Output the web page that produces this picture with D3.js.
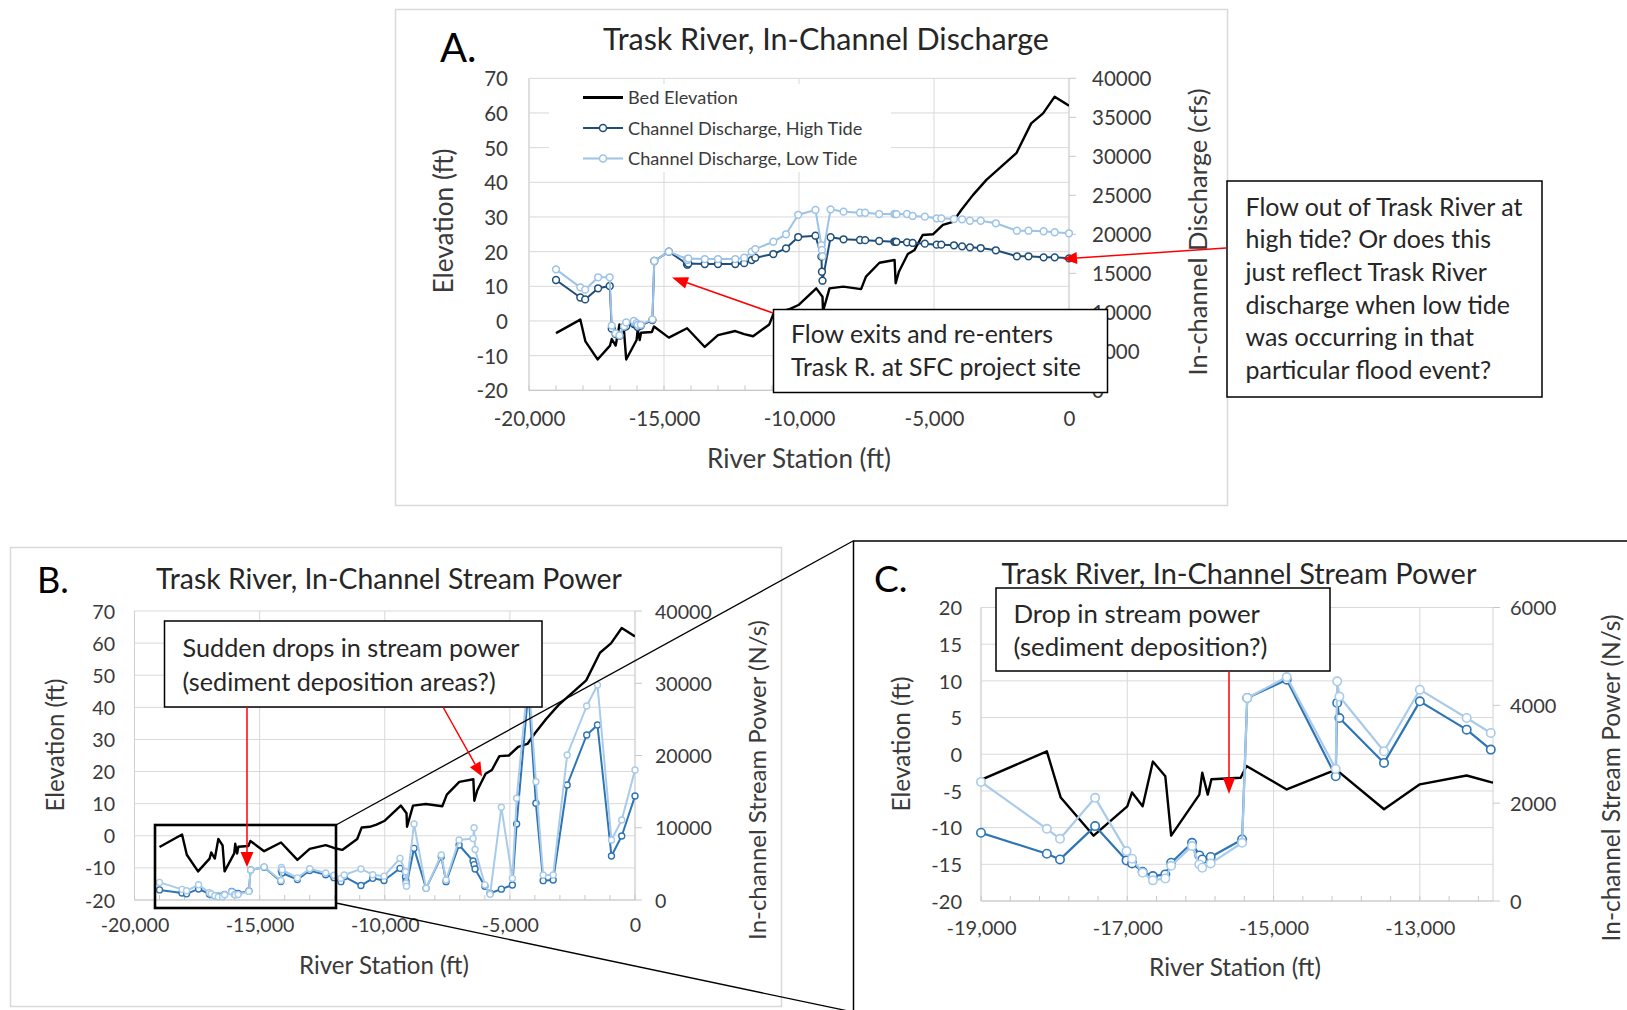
<!DOCTYPE html>
<html><head><meta charset="utf-8">
<script src="https://cdn.jsdelivr.net/npm/d3@7"></script>
<style>body{margin:0;background:#fff}svg{display:block}</style>
</head><body>
<svg id="chart" width="1627" height="1010"></svg>
<script>
// ---------------- DATA ----------------
const bedStation = [-19000,-18100,-17910,-17460,-17000,-16935,-16790,-16650,-16480,-16400,-16015,-15975,-15900,-15850,-15450,-15370,-14820,-14145,-13490,-13000,-12360,-12030,-11700,-11100,-10920,-10600,-10330,-10020,-9360,-9130,-9110,-8870,-8360,-7700,-7520,-7020,-6460,-6420,-6300,-5970,-5720,-5420,-5040,-4670,-4300,-3990,-3560,-3060,-2510,-1950,-1400,-960,-530,0];
const bedElev = [-3.5,0.4,-5.9,-11.1,-7.1,-5.2,-7.1,-1.0,-3.0,-11.1,-5.5,-2.5,-5.5,-3.4,-3.2,-1.6,-4.8,-2.1,-7.5,-4.1,-2.9,-3.8,-4.4,-1.0,2.6,2.8,3.5,4.6,9.4,7.0,2.8,9.4,9.9,9.2,12.8,16.8,17.6,10.9,14.2,19.3,20.5,24.8,25.0,27.7,28.6,32.0,36.3,40.7,44.5,48.4,57.0,59.9,64.7,62.1];

const flowStation = [-19000,-18100,-17920,-17440,-17010,-16935,-16790,-16650,-16480,-16400,-16115,-16015,-15975,-15860,-15430,-15360,-14820,-14150,-14130,-14100,-13490,-13000,-12360,-12030,-11750,-11620,-10950,-10480,-10030,-9390,-9170,-9150,-9130,-8830,-8350,-7740,-7550,-7030,-6470,-6430,-6390,-6000,-5790,-5340,-4900,-4730,-4260,-3960,-3670,-3270,-2710,-1930,-1500,-940,-530,0];
const dischargeHigh = [14140,11900,11650,13080,13370,7900,7200,7000,8100,8200,8500,8300,8100,8300,9000,16580,17770,16190,16100,16250,16190,16190,16190,16300,16700,17000,17470,18200,19650,19820,17130,15200,14050,19620,19360,19270,19250,19140,19050,19040,19030,18970,18890,18800,18670,18670,18590,18460,18330,18240,17950,17180,17180,17050,17050,16920];
const dischargeLow = [15510,13200,12900,14490,14490,8300,7300,7050,8200,8700,8900,8600,8400,8400,9100,16580,17770,16830,16700,16900,16830,16830,16830,17000,17770,18100,19050,20000,22500,23120,18600,17990,17200,23200,22900,22770,22760,22600,22600,22590,22580,22600,22350,22260,22050,22050,21960,21920,21740,21740,21410,20460,20460,20390,20260,20130];
const powerHigh = [1395,966,850,1531,830,769,599,510,544,782,1190,932,850,900,1258,4150,4524,2550,4050,3740,2823,4082,3503,3095,2537,3229,2000,3000,2700,4384,3200,2600,2076,7151,1615,5998,2537,7613,5400,4900,4300,1900,927,1500,2076,10519,29000,13383,2676,2768,15917,22837,24221,6090,8858,14394];
const powerLow = [2435,1476,1272,2109,1020,864,578,422,460,720,1122,748,680,769,1190,4150,4578,2700,4490,4180,3061,4320,3741,3435,3000,3460,4300,3500,3300,5767,3900,2300,1900,10519,1615,6228,2768,8304,8500,10000,7000,2100,800,12830,3000,14076,31000,16374,3460,3460,20069,26851,29758,8304,11073,17993];

const stationTicksAB = [-20000,-15000,-10000,-5000,0];
const stationTicksC = [-19000,-17000,-15000,-13000];
const elevTicksAB = [-20,-10,0,10,20,30,40,50,60,70];
const elevTicksC = [-20,-15,-10,-5,0,5,10,15,20];
const dischargeTicks = [0,5000,10000,15000,20000,25000,30000,35000,40000];
const powerTicksB = [0,10000,20000,30000,40000];
const powerTicksC = [0,2000,4000,6000];

const legendLabels = ["Bed Elevation","Channel Discharge, High Tide","Channel Discharge, Low Tide"];

// ---------------- DRAWING ----------------
const svg = d3.select('#chart');
const FONT = "Lato, 'Open Sans', sans-serif";
const TXT = '#3a3a3a';
const fmtX = d3.formatLocale({decimal:'.',thousands:',',grouping:[3],currency:['',''],minus:'-'}).format(',');
const fmtY = d3.formatLocale({decimal:'.',thousands:'',grouping:[3],currency:['',''],minus:'-'}).format('d');

function fit(sel, w){
  const fs = parseFloat(sel.attr('font-size'));
  const L = sel.node().getComputedTextLength();
  const nf = fs*w/L; sel.attr('font-size', nf); return nf;
}
function txt(g, s, x, y, fs, opts={}){
  const t = g.append('text').attr('x',x).attr('y',y).attr('font-size',fs)
    .attr('font-family',FONT).attr('fill',opts.fill||TXT).text(s);
  if(opts.anchor) t.attr('text-anchor',opts.anchor);
  if(opts.dy) t.attr('dy',opts.dy);
  if(opts.rotate){ t.attr('x',0).attr('y',0).attr('transform',`translate(${x},${y}) rotate(${opts.rotate})`); }
  if(opts.fit) fit(t, opts.fit);
  return t;
}

function panel(c){
  const g = svg.append('g');
  const x = d3.scaleLinear().domain(c.xDom).range([c.x0,c.x1]);
  const yL = d3.scaleLinear().domain(c.yLDom).range([c.yB,c.yT]);
  const yR = d3.scaleLinear().domain(c.yRDom).range([c.yB,c.yT]);
  g.append('g').selectAll('line').data(c.yLTicks).join('line')
    .attr('x1',c.x0).attr('x2',c.x1).attr('y1',d=>yL(d)).attr('y2',d=>yL(d))
    .attr('stroke','#d9d9d9').attr('stroke-width',1);
  g.append('g').selectAll('line').data(c.xTicks).join('line')
    .attr('x1',d=>x(d)).attr('x2',d=>x(d)).attr('y1',c.yT).attr('y2',c.yB)
    .attr('stroke','#d9d9d9').attr('stroke-width',1);
  g.append('line').attr('x1',c.x1).attr('x2',c.x1).attr('y1',c.yT).attr('y2',c.yB).attr('stroke','#d0d0d0');
  g.append('g').selectAll('line').data(c.yRTicks).join('line')
    .attr('x1',c.x1).attr('x2',c.x1+7).attr('y1',d=>yR(d)).attr('y2',d=>yR(d)).attr('stroke','#c8c8c8');
  g.append('line').attr('x1',c.x0).attr('x2',c.x0).attr('y1',c.yT).attr('y2',c.yB).attr('stroke','#d0d0d0');
  g.append('line').attr('x1',c.x0).attr('x2',c.x1).attr('y1',c.yB).attr('y2',c.yB).attr('stroke','#c8c8c8').attr('stroke-width',1.2);
  g.append('g').selectAll('line').data(d3.range(c.xDom[0], c.xDom[1]+1, c.xMinor)).join('line')
    .attr('x1',d=>x(d)).attr('x2',d=>x(d)).attr('y1',c.yB-5).attr('y2',c.yB).attr('stroke','#c8c8c8');

  const axL = g.append('g').attr('transform',`translate(${c.x0},0)`)
    .call(d3.axisLeft(yL).tickValues(c.yLTicks).tickFormat(fmtY).tickSize(0).tickPadding(c.padL));
  const axR = g.append('g').attr('transform',`translate(${c.x1},0)`)
    .call(d3.axisRight(yR).tickValues(c.yRTicks).tickFormat(fmtY).tickSize(0).tickPadding(c.padR));
  const axB = g.append('g').attr('transform',`translate(0,${c.yB})`)
    .call(d3.axisBottom(x).tickValues(c.xTicks).tickFormat(fmtX).tickSize(0).tickPadding(c.padB));
  [axL,axR,axB].forEach(a=>{
    a.select('.domain').remove();
    a.attr('font-family',FONT).attr('font-size',c.tickFs);
    a.selectAll('text').attr('fill',TXT);
  });
  axB.selectAll('text').attr('dy','0.72em');
  axL.selectAll('text').attr('dy','0.36em');
  axR.selectAll('text').attr('dy','0.36em');

  txt(g, c.leftTitle, c.lt[0], c.lt[1], 22, {anchor:'middle', rotate:-90, dy:'0.36em', fit:c.lt[2]});
  txt(g, c.rightTitle, c.rt[0], c.rt[1], 22, {anchor:'middle', rotate:-90, dy:'0.36em', fit:c.rt[2]});
  txt(g, 'River Station (ft)', c.bt[0], c.bt[1], 22, {anchor:'middle', dy:'0.36em', fit:c.bt[2]});
  txt(g, c.title, c.tt[0], c.tt[1], 28, {anchor:'middle', fill:'#262626', fit:c.tt[2]});
  txt(g, c.letter, c.lt2[0], c.lt2[1], c.lt2[2], {fill:'#000'});

  const cid = 'clip'+c.letter[0];
  g.append('clipPath').attr('id',cid).append('rect')
    .attr('x',c.x0).attr('y',c.yT-2).attr('width',c.x1-c.x0).attr('height',c.yB-c.yT+4);
  const layer = g.append('g');
  return {g, x, yL, yR, layer, cid, c};
}

function series(P, xs, ys, yScale, color, width, r, mw){
  const pts = xs.map((s,i)=>[s, ys[i]]);
  const line = d3.line().x(d=>P.x(d[0])).y(d=>yScale(d[1]));
  const sg = P.layer.append('g');
  sg.append('path').datum(pts).attr('d',line).attr('fill','none').attr('clip-path',`url(#${P.cid})`)
    .attr('stroke',color).attr('stroke-width',width).attr('stroke-linejoin','round');
  if(r){
    const dom = P.x.domain();
    sg.append('g').selectAll('circle').data(pts.filter(d=>d[0]>=dom[0] && d[0]<=dom[1])).join('circle')
      .attr('cx',d=>P.x(d[0])).attr('cy',d=>yScale(d[1])).attr('r',r)
      .attr('fill','#fff').attr('stroke',color).attr('stroke-width',mw);
  }
}

svg.append('rect').attr('x',395.5).attr('y',9.5).attr('width',832).attr('height',496)
  .attr('fill','#fff').attr('stroke','#d9d9d9').attr('stroke-width',1.5);
svg.append('rect').attr('x',10.5).attr('y',547.5).attr('width',771).attr('height',459)
  .attr('fill','#fff').attr('stroke','#d9d9d9').attr('stroke-width',1.5);
svg.append('rect').attr('x',853.5).attr('y',541).attr('width',800).attr('height',500)
  .attr('fill','#fff').attr('stroke','#000').attr('stroke-width',1.5);

const HIGH_A = '#1f4e79', LOW_A = '#9dc3e6';
const HIGH_B = '#2e75b6', LOW_B = '#a9cbea';

// ---- Panel A ----
const PA = panel({x0:529,x1:1069,yT:78.3,yB:390.3,xDom:[-20000,0],yLDom:[-20,70],yRDom:[0,40000],
  xTicks:stationTicksAB,xMinor:1000,yLTicks:elevTicksAB,yRTicks:dischargeTicks,
  tickFs:20.5,padL:21,padR:23,padB:21,
  leftTitle:'Elevation (ft)',rightTitle:'In-channel Discharge (cfs)',
  lt:[444,221,145],rt:[1198,232,287],bt:[799,459,184],
  title:'Trask River, In-Channel Discharge',tt:[826,50,446],letter:'A.',lt2:[440,62,40]});
series(PA, bedStation, bedElev, PA.yL, '#000', 2.4, 0);
series(PA, flowStation, dischargeHigh, PA.yR, HIGH_A, 2, 3.4, 1.5);
series(PA, flowStation, dischargeLow, PA.yR, LOW_A, 2, 3.4, 1.5);

const lg = svg.append('g');
lg.append('rect').attr('x',549).attr('y',84).attr('width',342).attr('height',88).attr('fill','#fff');
const legY = [97.5,128,158.5];
const legStyle = [{c:'#000',w:3,m:false},{c:HIGH_A,w:2.2,m:true},{c:LOW_A,w:2.2,m:true}];
let legFs = 16;
legendLabels.forEach((s,i)=>{
  lg.append('line').attr('x1',583).attr('x2',623).attr('y1',legY[i]).attr('y2',legY[i])
    .attr('stroke',legStyle[i].c).attr('stroke-width',legStyle[i].w);
  if(legStyle[i].m) lg.append('circle').attr('cx',603).attr('cy',legY[i]).attr('r',3.5)
    .attr('fill','#fff').attr('stroke',legStyle[i].c).attr('stroke-width',1.5);
  const t = txt(lg, s, 628, legY[i], 16, {dy:'0.36em'});
  if(i===1) legFs = fit(t, 234.5);
});
lg.selectAll('text').attr('font-size', legFs);

// ---- Panel B ----
const PB = panel({x0:134.5,x1:635,yT:611,yB:900,xDom:[-20000,0],yLDom:[-20,70],yRDom:[0,40000],
  xTicks:stationTicksAB,xMinor:1000,yLTicks:elevTicksAB,yRTicks:powerTicksB,
  tickFs:19.6,padL:19.5,padR:20,padB:18,
  leftTitle:'Elevation (ft)',rightTitle:'In-channel Stream Power (N/s)',
  lt:[55,745,133],rt:[757,780,320],bt:[384,965,170],
  title:'Trask River, In-Channel Stream Power',tt:[389,589,466],letter:'B.',lt2:[37,593,36]});
series(PB, bedStation, bedElev, PB.yL, '#000', 2.4, 0);
series(PB, flowStation, powerHigh, PB.yR, HIGH_B, 2, 3, 1.4);
series(PB, flowStation, powerLow, PB.yR, LOW_B, 2, 3, 1.4);

// ---- Panel C ----
const PC = panel({x0:981,x1:1493,yT:607.5,yB:901,xDom:[-19000,-12000],yLDom:[-20,20],yRDom:[0,6000],
  xTicks:stationTicksC,xMinor:400,yLTicks:elevTicksC,yRTicks:powerTicksC,
  tickFs:20,padL:19,padR:17,padB:20,
  leftTitle:'Elevation (ft)',rightTitle:'In-channel Stream Power (N/s)',
  lt:[901.5,744,135],rt:[1611,778,327],bt:[1235,967,172],
  title:'Trask River, In-Channel Stream Power',tt:[1239,584,475],letter:'C.',lt2:[874,592,37]});
series(PC, bedStation, bedElev, PC.yL, '#000', 2.4, 0);
series(PC, flowStation, powerHigh, PC.yR, HIGH_B, 2.2, 4.2, 1.6);
series(PC, flowStation, powerLow, PC.yR, LOW_B, 2.2, 4.2, 1.6);

// ---------------- OVERLAYS ----------------
const overlay = svg.append('g');
overlay.append('rect').attr('x',155).attr('y',825).attr('width',181).attr('height',83)
  .attr('fill','none').attr('stroke','#000').attr('stroke-width',2.6);
overlay.append('line').attr('x1',336).attr('y1',825).attr('x2',853).attr('y2',541).attr('stroke','#000').attr('stroke-width',1.3);
overlay.append('line').attr('x1',336).attr('y1',903).attr('x2',853).attr('y2',1012).attr('stroke','#000').attr('stroke-width',1.3);

function note(x,y,w,h,lines,tx,ty0,dyLine,refIdx,refW){
  const g = overlay.append('g');
  g.append('rect').attr('x',x).attr('y',y).attr('width',w).attr('height',h)
    .attr('fill','#fff').attr('stroke','#000').attr('stroke-width',1.5);
  const ts = lines.map((s,i)=>txt(g, s, tx, ty0+i*dyLine, 22, {fill:'#262626', dy:'0.36em'}));
  const fs = fit(ts[refIdx], refW);
  ts.forEach(t=>t.attr('font-size',fs));
}
function arrow(x1,y1,x2,y2,hl,hw){
  const a = Math.atan2(y2-y1,x2-x1);
  const bx = x2-hl*Math.cos(a), by = y2-hl*Math.sin(a);
  overlay.append('line').attr('x1',x1).attr('y1',y1).attr('x2',bx).attr('y2',by)
    .attr('stroke','#ff0000').attr('stroke-width',1.5);
  const px = -Math.sin(a)*hw/2, py = Math.cos(a)*hw/2;
  overlay.append('path').attr('d',`M${x2},${y2}L${bx+px},${by+py}L${bx-px},${by-py}Z`).attr('fill','#ff0000');
}

note(773.5,309.5,334,83,['Flow exits and re-enters','Trask R. at SFC project site'],791,334,33,1,290);
note(1227,181,315,216,['Flow out of Trask River at','high tide? Or does this','just reflect Trask River','discharge when low tide','was occurring in that','particular flood event?'],1245.5,206.7,32.7,0,277);
note(164.5,621,377.5,86,['Sudden drops in stream power','(sediment deposition areas?)'],182.6,648,33.7,0,337);
note(996,588,334,83,['Drop in stream power','(sediment deposition?)'],1013.5,613.3,33.4,1,254);

arrow(773,313,672,277.5,16,12);
arrow(1226,248,1063,259,14,12);
arrow(247,707,247,867,15,13);
arrow(443,707,482,776.5,14,12);
arrow(1229,671,1229,794,16,12);
</script>
</body></html>
